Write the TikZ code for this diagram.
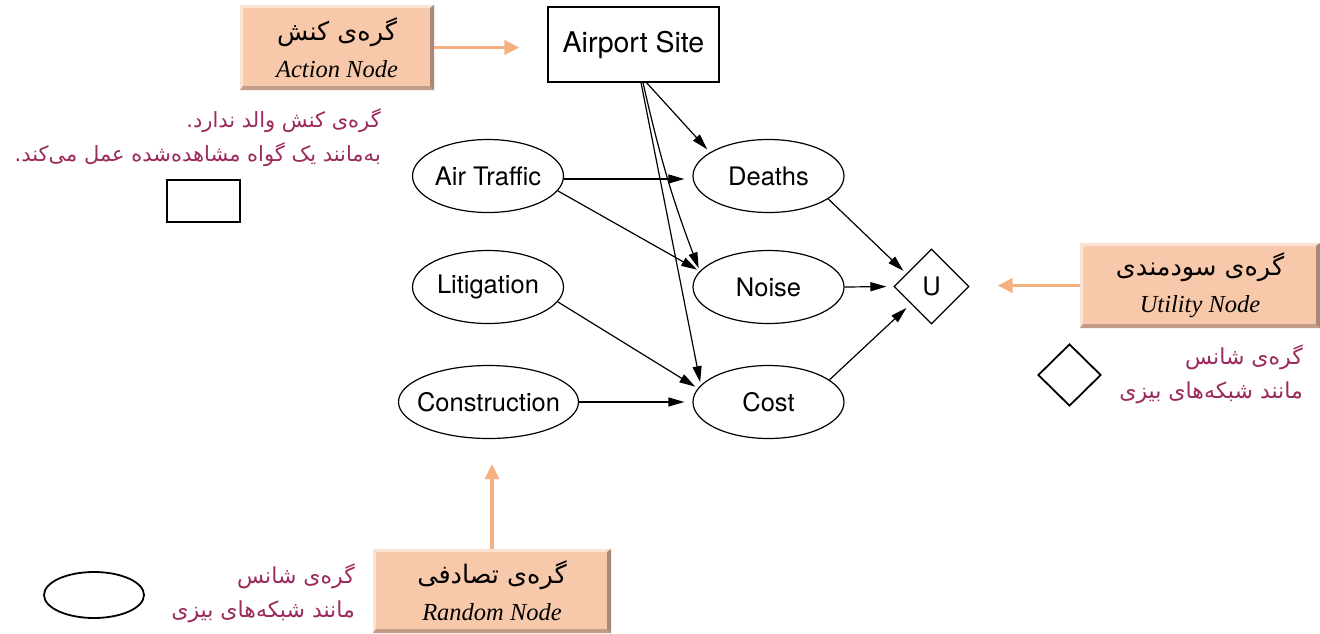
\documentclass[tikz,border=0pt]{standalone}
\usepackage{fontspec}
\setmainfont{TeX Gyre Heros}
\newfontfamily\serifit{Liberation Serif}
\newfontfamily\fa[Script=Arabic]{DejaVu Sans}
\TeXXeTstate=1
\usetikzlibrary{shapes.geometric,arrows.meta}
\newcommand\fatext[1]{{\fa\beginR#1\endR}}
\newcommand\boxtitle[1]{{\fontsize{25.5}{37}\selectfont\fatext{#1}}}
\newcommand\boxsub[1]{{\fontsize{24.5}{37}\selectfont\serifit\itshape #1}}
\newcommand\lbl[1]{\makebox[0pt]{#1}}
\definecolor{peach}{HTML}{F7C9AA}
\definecolor{bevellight}{HTML}{FBE3D3}
\definecolor{beveldark}{HTML}{A98878}
\definecolor{bevelmid}{HTML}{C29C88}
\definecolor{calloutorange}{HTML}{F4B080}
\definecolor{notemagenta}{HTML}{9C2A5C}
\tikzset{
  chance/.style={ellipse, draw, line width=1.2pt, minimum width=151pt,
    minimum height=73pt, inner sep=0pt, font=\fontsize{25.5}{30}\selectfont},
  decisionbox/.style={rectangle, draw, line width=1.2pt, minimum width=171pt,
    minimum height=75pt, inner sep=0pt, font=\fontsize{28.5}{32}\selectfont},
  utilitybox/.style={diamond, draw, line width=1.2pt, minimum width=75pt,
    minimum height=75pt, inner sep=0pt, font=\fontsize{25.5}{30}\selectfont},
  link/.style={-{Triangle[length=16pt,width=9pt]}, line width=1.2pt},
  callout/.style={line width=3.6pt, calloutorange,
    -{Triangle[length=15pt,width=14pt]}},
  keyshape/.style={draw, line width=1.8pt, inner sep=0pt},
  note/.style={text=notemagenta, align=right, anchor=east, inner sep=0pt,
    font=\fontsize{22}{34}\selectfont},
  bevelbox/.style={rectangle, fill=peach, inner sep=0pt, align=center,
    font=\fontsize{25}{37}\selectfont,
    path picture={
      \fill[bevellight] (path picture bounding box.north west)
        -- (path picture bounding box.north east)
        -- ([shift={(-3pt,-3pt)}]path picture bounding box.north east)
        -- ([shift={(3pt,-3pt)}]path picture bounding box.north west) -- cycle;
      \fill[bevellight] (path picture bounding box.north west)
        -- (path picture bounding box.south west)
        -- ([shift={(3pt,3pt)}]path picture bounding box.south west)
        -- ([shift={(3pt,-3pt)}]path picture bounding box.north west) -- cycle;
      \fill[bevelmid] (path picture bounding box.south west)
        -- (path picture bounding box.south east)
        -- ([shift={(-4pt,4pt)}]path picture bounding box.south east)
        -- ([shift={(3pt,4pt)}]path picture bounding box.south west) -- cycle;
      \fill[beveldark] (path picture bounding box.north east)
        -- (path picture bounding box.south east)
        -- ([shift={(-4pt,4pt)}]path picture bounding box.south east)
        -- ([shift={(-4pt,-3pt)}]path picture bounding box.north east) -- cycle;
    }},
}
\begin{document}
\begin{tikzpicture}[x=1pt,y=-1pt]
\useasboundingbox (0,0) rectangle (1320,633);

% decision network
\node[decisionbox] (site) at (633.5,44.5) {\lbl{Airport Site}};
\node[chance] (traffic) at (488,176) {\lbl{Air Traffic}};
\node[chance] (litigation) at (488,287) {\lbl{Litigation}};
\node[chance, minimum width=180pt] (construction) at (488.5,402) {\lbl{Construction}};
\node[chance] (deaths) at (768.5,176) {\lbl{Deaths}};
\node[chance] (noise) at (768.5,287) {\lbl{Noise}};
\node[chance] (cost) at (768.5,402) {\lbl{Cost}};
\node[utilitybox] (U) at (931.5,286.5) {U};

\draw[link, shorten >=4pt] ([xshift=13pt]site.south) -- (deaths.158);
\draw[link, shorten >=3pt] ([xshift=9.5pt]site.south) to[bend right=4] (noise.167);
\draw[link, shorten >=3pt] ([xshift=7.5pt]site.south) -- (cost.166);
\draw[link, shorten >=8pt] ([yshift=-3pt]traffic.east) -- ([yshift=-3pt]deaths.west);
\draw[link, shorten >=3pt] (traffic.-12) -- (noise.167);
\draw[link, shorten >=3pt] (litigation.-12) -- (cost.169);
\draw[link, shorten >=8pt] (construction.east) -- (cost.west);
\draw[link, shorten >=4pt] (deaths.-21) -- (U.153);
\draw[link, shorten >=7pt] (noise.east) -- (U.west);
\draw[link, shorten >=6pt] (cost.20) -- (U.220);

% action node callout
\node[bevelbox, minimum width=194pt, minimum height=85pt] (actbox) at (337,47.5)
  {\boxtitle{گره^^^^200cی کنش}\\\boxsub{Action Node}};
\draw[callout] (actbox.east) -- ([xshift=-28pt]actbox.east -| site.west);
\node[note, font=\fontsize{21}{34}\selectfont] (actnote) at (381,138)
  {\fatext{گره^^^^200cی کنش والد ندارد.}\\\fatext{به^^^^200cمانند یک گواه مشاهده^^^^200cشده عمل می^^^^200cکند.}};
\node[keyshape, rectangle, minimum width=73pt, minimum height=42pt] (actkey) at (203.5,201) {};

% utility node callout
\node[bevelbox, minimum width=240pt, minimum height=85pt] (utilbox) at (1200,285.5)
  {\boxtitle{گره^^^^200cی سودمندی}\\\boxsub{Utility Node}};
\draw[callout] (utilbox.west) -- ([xshift=28pt]utilbox.west -| U.east);
\node[keyshape, diamond, minimum width=63pt, minimum height=62pt] (utilkey) at (1069.5,375) {};
\node[note] (utilnote) at (1303,374)
  {\fatext{گره^^^^200cی شانس}\\\fatext{مانند شبکه^^^^200cهای بیزی}};

% random node callout
\node[bevelbox, minimum width=238pt, minimum height=84pt] (randbox) at (492,591)
  {\boxtitle{گره^^^^200cی تصادفی}\\\boxsub{Random Node}};
\draw[callout] (randbox.north) -- ([yshift=-25pt]randbox.north |- construction.south);
\node[keyshape, ellipse, minimum width=100pt, minimum height=46pt] (chancekey) at (94,595) {};
\node[note] (randnote) at (355,593)
  {\fatext{گره^^^^200cی شانس}\\\fatext{مانند شبکه^^^^200cهای بیزی}};
\end{tikzpicture}
\end{document}
